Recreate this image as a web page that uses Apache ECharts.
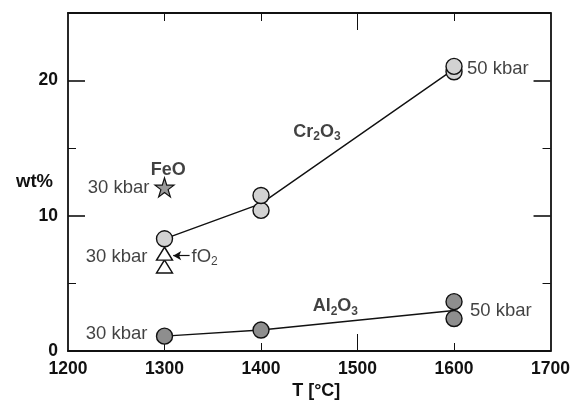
<!DOCTYPE html>
<html lang="en">

<head>
    <meta charset="UTF-8">
    <title>wt% vs T</title>
    <style>
        html, body { margin: 0; padding: 0; background: #fff; }
        #main { width: 573px; height: 408px; }
    </style>
    <script src="https://cdn.jsdelivr.net/npm/echarts@6/dist/echarts.min.js"></script>
</head>

<body>
    <div id="main"></div>
    <script>
        var myChart = echarts.init(document.getElementById('main'));

        // measured points [T, wt%]
        var cr2o3Points = [[1300, 8.3], [1400, 10.4], [1400, 11.5], [1600, 20.65], [1600, 21.05]];
        var al2o3Points = [[1300, 1.1], [1400, 1.55], [1600, 2.4], [1600, 3.65]];
        var feoPoints = [[1300, 12.1]];
        var fo2Points = [[1300, 6.25], [1300, 7.2]];
        // trend lines (through mean values)
        var cr2o3Trend = [[1300, 8.3], [1400, 10.9], [1600, 20.85]];
        var al2o3Trend = [[1300, 1.1], [1400, 1.55], [1600, 3.0]];

        var xLabels = [1200, 1300, 1400, 1500, 1600, 1700];
        var xLongTicks = [1500];
        var xShortTicks = [1300, 1400, 1600];
        var yLabels = [0, 10, 20];
        var yLongTicks = [10, 20];
        var yShortTicks = [5, 15];
        var xMin = 1200, xMax = 1700, yMin = 0, yMax = 25;

        var FONT = "'Liberation Sans', Arial, Helvetica, sans-serif";
        var INK = '#111';

        // text notes anchored in data coordinates
        var notes = [
            { value: [1304, 13.35], text: 'FeO', pos: 'inside', bold: true },
            { value: [1300, 12.1], text: '30 kbar', pos: 'left', dist: 15 },
            { value: [1300, 6.95], text: '30 kbar', pos: 'left', dist: 17 },
            { value: [1300, 1.25], text: '30 kbar', pos: 'left', dist: 17 },
            { value: [1600, 20.9], text: '50 kbar', pos: 'right', dist: 13 },
            { value: [1600, 2.95], text: '50 kbar', pos: 'right', dist: 16 },
            { value: [1458, 16.2], text: 'Cr{s|2}O{s|3}', pos: 'inside', bold: true },
            { value: [1477, 3.3], text: 'Al{s|2}O{s|3}', pos: 'inside', bold: true },
            { value: [1328, 6.95], text: 'f{t|O}{u|2}', pos: 'right', dist: 0 }
        ];

        var star = 'path://M50,0 L61.2,34.5 L97.6,34.5 L68.2,55.9 L79.4,90.5 L50,69.1 L20.6,90.5 L31.8,55.9 L2.4,34.5 L38.8,34.5 Z';

        function tickAxis(pos, values, len, extra) {
            var ax = {
                type: 'value',
                position: pos,
                axisLine: { show: false, onZero: false, lineStyle: { color: INK } },
                axisTick: { show: true, inside: true, length: len, customValues: values },
                axisLabel: { show: false },
                splitLine: { show: false }
            };
            return Object.assign(ax, extra);
        }

        var xr = { min: xMin, max: xMax, interval: 100 };
        var yr = { min: yMin, max: yMax, interval: 5 };

        function frameLine() {
            return { show: true, onZero: false, lineStyle: { color: INK, width: 1.8 } };
        }

        var option = {
            backgroundColor: '#fff',
            animation: false,
            textStyle: { fontFamily: FONT },
            grid: { left: 68, right: 21, top: 13, bottom: 57 },
            xAxis: [
                Object.assign(tickAxis('bottom', [], 8, {
                    axisLine: frameLine(),
                    axisTick: { show: false },
                    axisLabel: {
                        show: true, customValues: xLabels, margin: 9,
                        formatter: function (v) { return String(v); },
                        fontFamily: FONT, fontSize: 17.5, fontWeight: 'bold', color: INK
                    },
                    name: 'T [°C]',
                    nameLocation: 'middle',
                    nameGap: 31,
                    nameMoveOverlap: false,
                    nameTextStyle: { fontFamily: FONT, fontSize: 18, fontWeight: 'bold', color: INK, padding: [0, 0, 0, 14] }
                }), xr),
                Object.assign(tickAxis('bottom', xShortTicks, 8), xr),
                Object.assign(tickAxis('bottom', xLongTicks, 17), xr),
                Object.assign(tickAxis('top', [], 8, { axisLine: frameLine(), axisTick: { show: false } }), xr),
                Object.assign(tickAxis('top', xShortTicks, 8), xr),
                Object.assign(tickAxis('top', xLongTicks, 17), xr)
            ],
            yAxis: [
                Object.assign(tickAxis('left', yLongTicks, 17, {
                    axisLine: frameLine(),
                    axisTick: { show: true, inside: true, length: 17, customValues: yLongTicks, lineStyle: { color: INK, width: 1.6 } },
                    axisLabel: {
                        show: true, customValues: yLabels, margin: 10,
                        formatter: function (v) { return String(v); },
                        fontFamily: FONT, fontSize: 17.5, fontWeight: 'bold', color: INK
                    },
                    name: 'wt%',
                    nameLocation: 'middle',
                    nameRotate: 0,
                    nameGap: 15,
                    nameMoveOverlap: false,
                    nameTextStyle: { fontFamily: FONT, fontSize: 18.5, fontWeight: 'bold', color: INK, padding: [10, 0, 0, 0] }
                }), yr),
                Object.assign(tickAxis('left', yShortTicks, 8), yr),
                Object.assign(tickAxis('right', yLongTicks, 17, {
                    axisLine: frameLine(),
                    axisTick: { show: true, inside: true, length: 17, customValues: yLongTicks, lineStyle: { color: INK, width: 1.6 } }
                }), yr),
                Object.assign(tickAxis('right', yShortTicks, 8), yr)
            ],
            series: [{
                name: 'Cr2O3 trend',
                type: 'line',
                data: cr2o3Trend,
                symbol: 'none',
                lineStyle: { color: INK, width: 1.4 },
                z: 2
            }, {
                name: 'Al2O3 trend',
                type: 'line',
                data: al2o3Trend,
                symbol: 'none',
                lineStyle: { color: INK, width: 1.4 },
                z: 2
            }, {
                name: 'Cr2O3',
                type: 'scatter',
                data: cr2o3Points,
                symbol: 'circle',
                symbolSize: 16,
                itemStyle: { color: '#d2d2d2', borderColor: INK, borderWidth: 1.4, opacity: 1 },
                z: 3
            }, {
                name: 'Al2O3',
                type: 'scatter',
                data: al2o3Points,
                symbol: 'circle',
                symbolSize: 16,
                itemStyle: { color: '#8e8e8e', borderColor: INK, borderWidth: 1.4, opacity: 1 },
                z: 3
            }, {
                name: 'FeO',
                type: 'scatter',
                data: feoPoints,
                symbol: star,
                symbolSize: 19,
                itemStyle: { color: '#9a9a9a', borderColor: INK, borderWidth: 1.2, opacity: 1 },
                z: 3
            }, {
                name: 'fO2',
                type: 'scatter',
                data: fo2Points,
                symbol: 'triangle',
                symbolSize: [16, 13],
                itemStyle: { color: '#fff', borderColor: INK, borderWidth: 1.4, opacity: 1 },
                z: 3,
                markLine: {
                    silent: true,
                    symbol: ['none', 'arrow'],
                    symbolSize: [7, 8],
                    label: { show: false },
                    lineStyle: { color: INK, width: 1.2, type: 'solid' },
                    data: [[{ coord: [1326, 7.05] }, { coord: [1309, 7.05] }]]
                }
            }, {
                name: 'notes',
                type: 'scatter',
                symbolSize: 0,
                silent: true,
                z: 4,
                data: notes.map(function (n) {
                    return {
                        value: n.value,
                        label: {
                            show: true,
                            position: n.pos,
                            distance: n.dist || 0,
                            formatter: n.text,
                            fontFamily: FONT,
                            fontSize: n.bold ? 18 : 18.5,
                            fontWeight: n.bold ? 'bold' : 'normal',
                            color: INK,
                            textBorderWidth: 0,
                            lineHeight: 22,
                            rich: {
                                s: { fontFamily: FONT, fontSize: 12, fontWeight: 'bold', color: INK, lineHeight: 22, verticalAlign: 'bottom' },
                                t: { fontFamily: FONT, fontSize: 18.5, color: INK, lineHeight: 22 },
                                u: { fontFamily: FONT, fontSize: 12, color: INK, lineHeight: 22, verticalAlign: 'bottom' }
                            }
                        }
                    };
                })
            }]
        };
        myChart.setOption(option);
    </script>
</body>

</html>
